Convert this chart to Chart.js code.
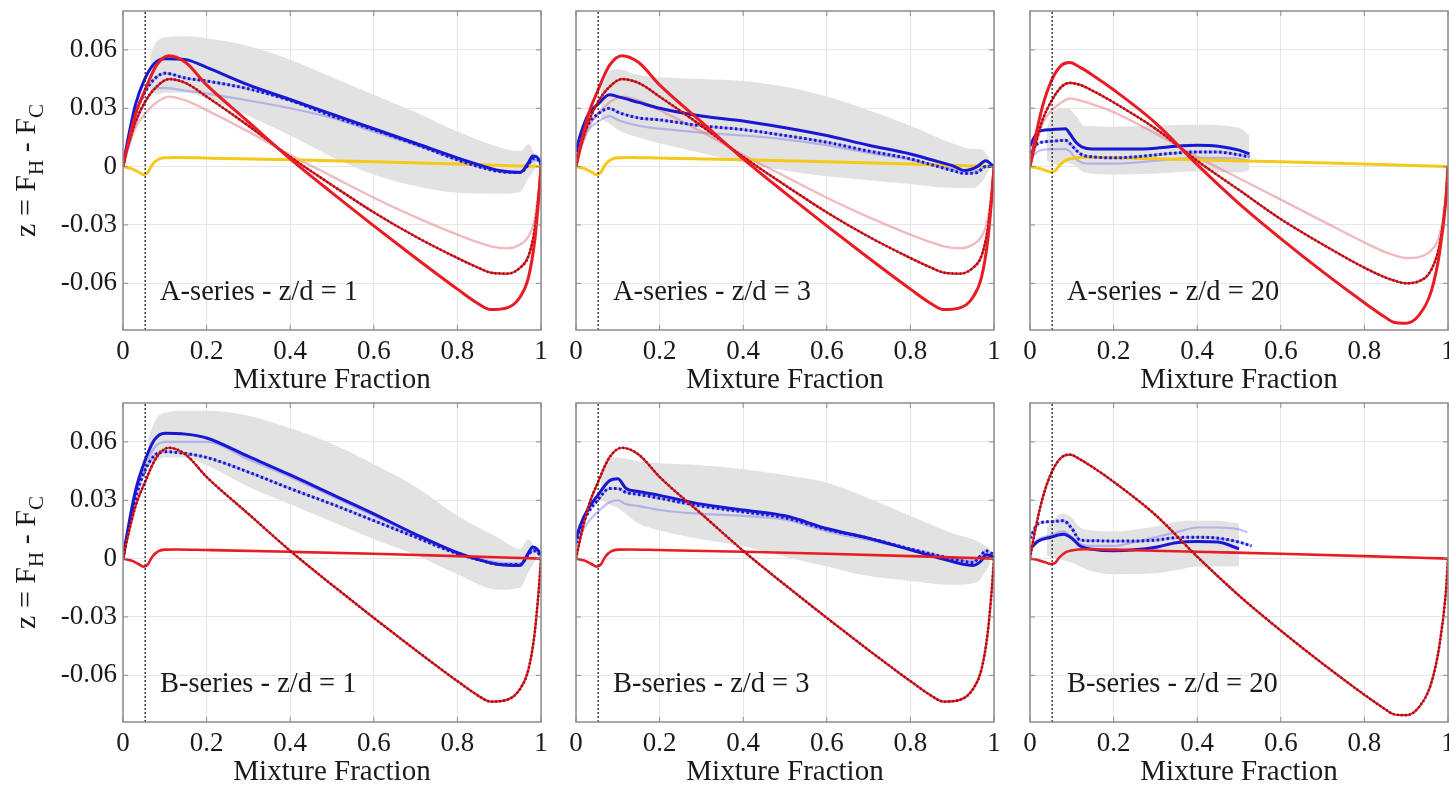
<!DOCTYPE html>
<html lang="en">
<head>
<meta charset="UTF-8">
<title>Mixture fraction panels</title>
<script src="https://cdn.jsdelivr.net/npm/chart.js"></script>
<style>
  body { margin: 0; width: 1449px; height: 785px; overflow: hidden; background: #fff; position: relative; }
  canvas { position: absolute; }
</style>
</head>
<body>
<script>
// axis setup
var X_TICKS = [0, 0.2, 0.4, 0.6, 0.8, 1];
var X_TICK_LABELS = ['0', '0.2', '0.4', '0.6', '0.8', '1'];
var Y_TICKS = [-0.06, -0.03, 0, 0.03, 0.06];
var Y_TICK_LABELS = ['-0.06', '-0.03', '0', '0.03', '0.06'];
var Y_MIN = -0.084, Y_MAX = 0.080;
var Z_ST = 0.053;   // stoichiometric mixture fraction (dotted line)

// model curves, A-series z/d = 1 and 3 (also B-series dotted red)
var X_MODEL = [0, 0.01, 0.03, 0.052, 0.08, 0.11, 0.15, 0.2, 0.3, 0.4, 0.5, 0.6, 0.7, 0.8, 0.85, 0.88, 0.92, 0.95, 0.97, 0.985, 0.995, 1];
var A_RED      = [0, 0.010, 0.027, 0.039, 0.052, 0.057, 0.0535, 0.042, 0.023, 0.004, -0.0135, -0.0305, -0.047, -0.063, -0.0705, -0.0735, -0.0725, -0.067, -0.057, -0.038, -0.015, 0];
var A_RED_DOT  = [0, 0.009, 0.023, 0.033, 0.041, 0.045, 0.043, 0.036, 0.021, 0.005, -0.0095, -0.0235, -0.036, -0.047, -0.052, -0.0545, -0.055, -0.052, -0.046, -0.032, -0.013, 0];
var A_RED_PALE = [0, 0.008, 0.020, 0.027, 0.033, 0.036, 0.034, 0.029, 0.018, 0.006, -0.005, -0.016, -0.026, -0.035, -0.039, -0.041, -0.042, -0.040, -0.036, -0.027, -0.011, 0];

// model curves, z/d = 20
var X_MODEL20 = [0, 0.01, 0.03, 0.052, 0.075, 0.095, 0.12, 0.15, 0.2, 0.3, 0.4, 0.5, 0.6, 0.7, 0.8, 0.85, 0.87, 0.9, 0.93, 0.96, 0.98, 0.995, 1];
var A20_RED      = [0, 0.012, 0.031, 0.0445, 0.052, 0.0535, 0.051, 0.047, 0.0395, 0.0225, 0.001, -0.019, -0.037, -0.054, -0.070, -0.0775, -0.080, -0.0805, -0.0765, -0.064, -0.044, -0.017, 0];
var A20_RED_DOT  = [0, 0.009, 0.024, 0.034, 0.041, 0.043, 0.042, 0.039, 0.033, 0.0195, 0.003, -0.012, -0.027, -0.040, -0.052, -0.057, -0.0585, -0.060, -0.059, -0.053, -0.040, -0.016, 0];
var A20_RED_PALE = [0, 0.008, 0.022, 0.029, 0.033, 0.035, 0.034, 0.032, 0.028, 0.017, 0.005, -0.006, -0.017, -0.028, -0.039, -0.044, -0.0455, -0.047, -0.0465, -0.043, -0.035, -0.015, 0];

// near-zero curve (yellow in A, solid red in B)
var X_NEAR = [0, 0.02, 0.035, 0.05, 0.06, 0.07, 0.085, 0.1, 0.13, 0.2, 0.4, 0.6, 0.8, 1];
var NEAR   = [0, -0.001, -0.0025, -0.0042, -0.0028, 0.001, 0.0038, 0.0046, 0.0047, 0.0044, 0.0035, 0.0025, 0.0013, 0];
var NEAR20 = [0, -0.0008, -0.0018, -0.0028, -0.0022, 0.0005, 0.0032, 0.0042, 0.0048, 0.0046, 0.0035, 0.0025, 0.0013, 0];

// A-series z/d = 1
var A1_X = [0, 0.01, 0.03, 0.052, 0.075, 0.1, 0.15, 0.2, 0.3, 0.4, 0.5, 0.6, 0.7, 0.8, 0.85, 0.9, 0.95, 0.97, 0.98, 0.99, 1];
var A1_BLUE       = [0, 0.012, 0.032, 0.045, 0.053, 0.0555, 0.055, 0.051, 0.042, 0.0345, 0.027, 0.0195, 0.012, 0.0045, 0.001, -0.002, -0.003, 0.002, 0.0055, 0.005, 0.002];
var A1_BLUE_DOT   = [0, 0.010, 0.027, 0.038, 0.045, 0.048, 0.0455, 0.044, 0.040, 0.034, 0.026, 0.019, 0.0115, 0.0035, 0, -0.0025, -0.003, 0.001, 0.004, 0.004, 0.001];
var A1_BLUE_LIGHT = [0, 0.008, 0.022, 0.033, 0.040, 0.0405, 0.039, 0.0375, 0.034, 0.030, 0.025, 0.018, 0.011, 0.0035, 0, -0.002, -0.0025, 0.001, 0.003, 0.003, 0.001];
var A1_BAND_X  = [0.065, 0.08, 0.1, 0.15, 0.2, 0.3, 0.4, 0.5, 0.6, 0.7, 0.8, 0.9, 0.95, 0.97, 0.99];
var A1_BAND_HI = [0.058, 0.064, 0.0665, 0.067, 0.066, 0.062, 0.055, 0.046, 0.037, 0.028, 0.018, 0.010, 0.008, 0.0115, 0.004];
var A1_BAND_LO = [0.040, 0.037, 0.038, 0.038, 0.035, 0.026, 0.016, 0.005, -0.004, -0.010, -0.0135, -0.014, -0.013, -0.006, 0];

// A-series z/d = 3
var A3_X = [0, 0.01, 0.03, 0.052, 0.08, 0.1, 0.15, 0.2, 0.3, 0.4, 0.5, 0.6, 0.7, 0.8, 0.85, 0.9, 0.93, 0.96, 0.98, 1];
var A3_BLUE       = [0.008, 0.016, 0.027, 0.032, 0.037, 0.036, 0.033, 0.030, 0.026, 0.0235, 0.020, 0.016, 0.011, 0.0065, 0.0035, 0.0005, -0.002, 0, 0.003, 0];
var A3_BLUE_DOT   = [0.005, 0.012, 0.022, 0.027, 0.030, 0.028, 0.025, 0.024, 0.021, 0.019, 0.016, 0.0125, 0.008, 0.004, 0.001, -0.002, -0.0035, -0.003, 0, 0];
var A3_BLUE_LIGHT = [0.004, 0.010, 0.019, 0.023, 0.026, 0.024, 0.021, 0.0195, 0.0175, 0.016, 0.014, 0.011, 0.007, 0.0035, 0.001, -0.001, -0.002, -0.002, 0, 0];
var A3_BAND_X  = [0.06, 0.08, 0.1, 0.15, 0.2, 0.3, 0.4, 0.5, 0.6, 0.7, 0.8, 0.9, 0.95, 0.97, 0.99];
var A3_BAND_HI = [0.040, 0.049, 0.050, 0.047, 0.046, 0.045, 0.044, 0.041, 0.036, 0.029, 0.021, 0.012, 0.009, 0.009, 0.004];
var A3_BAND_LO = [0.025, 0.022, 0.019, 0.015, 0.012, 0.007, 0.002, -0.002, -0.005, -0.007, -0.009, -0.011, -0.011, -0.008, -0.001];

// A-series z/d = 20
var A20_X = [0, 0.01, 0.02, 0.05, 0.085, 0.095, 0.11, 0.125, 0.15, 0.2, 0.25, 0.3, 0.35, 0.4, 0.45, 0.5, 0.525];
var A20_BLUE       = [0.0105, 0.015, 0.018, 0.019, 0.0195, 0.017, 0.0125, 0.010, 0.009, 0.009, 0.009, 0.0095, 0.0105, 0.011, 0.0105, 0.0085, 0.0065];
var A20_BLUE_DOT   = [0.007, 0.010, 0.012, 0.013, 0.0135, 0.012, 0.0085, 0.006, 0.005, 0.0045, 0.005, 0.006, 0.007, 0.0075, 0.0075, 0.006, 0.005];
var A20_BLUE_LIGHT = [0.004, 0.006, 0.008, 0.009, 0.009, 0.008, 0.004, 0.002, 0.0015, 0.0015, 0.002, 0.003, 0.004, 0.0045, 0.0045, 0.004, 0.003];
var A20_BAND_X  = [0.04, 0.06, 0.09, 0.11, 0.13, 0.2, 0.3, 0.4, 0.5, 0.525];
var A20_BAND_HI = [0.020, 0.029, 0.030, 0.026, 0.021, 0.0205, 0.021, 0.0215, 0.020, 0.016];
var A20_BAND_LO = [0.003, 0.001, 0.002, 0, -0.003, -0.004, -0.0035, -0.0025, -0.003, -0.002];

// B-series z/d = 1
var B1_X = [0, 0.01, 0.03, 0.052, 0.075, 0.1, 0.15, 0.2, 0.3, 0.4, 0.5, 0.6, 0.7, 0.8, 0.85, 0.9, 0.95, 0.97, 0.98, 0.99, 1];
var B1_BLUE       = [0, 0.013, 0.035, 0.050, 0.061, 0.0645, 0.064, 0.062, 0.0525, 0.043, 0.033, 0.023, 0.0125, 0.003, -0.0005, -0.003, -0.0035, 0.003, 0.006, 0.005, 0.002];
var B1_BLUE_DOT   = [0, 0.012, 0.031, 0.045, 0.053, 0.055, 0.054, 0.052, 0.0445, 0.036, 0.028, 0.0195, 0.011, 0.0025, -0.0005, -0.003, -0.003, 0.002, 0.004, 0.0035, 0.001];
var B1_BLUE_LIGHT = [0, 0.012, 0.033, 0.047, 0.057, 0.060, 0.060, 0.060, 0.051, 0.042, 0.032, 0.022, 0.012, 0.003, 0, -0.002, -0.0025, 0.002, 0.005, 0.004, 0.001];
var B1_BAND_X  = [0.06, 0.08, 0.1, 0.15, 0.2, 0.3, 0.4, 0.5, 0.6, 0.7, 0.8, 0.9, 0.95, 0.97, 0.99];
var B1_BAND_HI = [0.062, 0.072, 0.075, 0.076, 0.076, 0.0735, 0.067, 0.059, 0.0485, 0.037, 0.022, 0.0105, 0.005, 0.010, 0.003];
var B1_BAND_LO = [0.045, 0.050, 0.052, 0.052, 0.048, 0.037, 0.028, 0.019, 0.010, 0.002, -0.008, -0.016, -0.015, -0.007, 0];

// B-series z/d = 3
var B3_X = [0, 0.01, 0.03, 0.052, 0.08, 0.1, 0.12, 0.15, 0.2, 0.3, 0.4, 0.5, 0.6, 0.7, 0.8, 0.9, 0.95, 0.97, 0.98, 1];
var B3_BLUE       = [0.010, 0.017, 0.026, 0.0325, 0.040, 0.041, 0.036, 0.0345, 0.0325, 0.028, 0.025, 0.022, 0.0155, 0.0105, 0.0045, -0.0015, -0.0035, -0.001, 0.002, 0.001];
var B3_BLUE_DOT   = [0.008, 0.015, 0.024, 0.030, 0.036, 0.036, 0.034, 0.033, 0.031, 0.027, 0.024, 0.021, 0.015, 0.0105, 0.005, 0, -0.002, 0.002, 0.004, 0.002];
var B3_BLUE_LIGHT = [0.006, 0.012, 0.019, 0.024, 0.029, 0.030, 0.028, 0.027, 0.025, 0.023, 0.022, 0.020, 0.014, 0.0095, 0.005, 0, -0.001, 0.001, 0.001, 0];
var B3_BAND_X  = [0.06, 0.08, 0.1, 0.15, 0.2, 0.3, 0.4, 0.5, 0.6, 0.7, 0.8, 0.9, 0.96, 0.99];
var B3_BAND_HI = [0.046, 0.052, 0.052, 0.050, 0.049, 0.048, 0.046, 0.043, 0.039, 0.031, 0.022, 0.013, 0.009, 0.005];
var B3_BAND_LO = [0.030, 0.028, 0.026, 0.018, 0.0145, 0.010, 0.0065, 0.001, -0.004, -0.009, -0.0115, -0.0135, -0.012, -0.003];

// B-series z/d = 20
var B20_X = [0, 0.02, 0.05, 0.08, 0.1, 0.12, 0.15, 0.2, 0.25, 0.3, 0.35, 0.4, 0.45, 0.5];
var B20_BLUE = [0.0048, 0.009, 0.011, 0.0125, 0.0105, 0.0065, 0.0048, 0.004, 0.0045, 0.0058, 0.0082, 0.0088, 0.0085, 0.005];
var B20_DOT_X = [0, 0.02, 0.05, 0.08, 0.1, 0.12, 0.15, 0.2, 0.25, 0.3, 0.35, 0.4, 0.45, 0.5, 0.53];
var B20_BLUE_DOT = [0.0105, 0.018, 0.019, 0.0195, 0.0155, 0.0095, 0.0092, 0.009, 0.009, 0.0095, 0.0108, 0.011, 0.0105, 0.0085, 0.0065];
var B20_LIGHT_X = [0, 0.02, 0.05, 0.08, 0.1, 0.12, 0.15, 0.2, 0.25, 0.3, 0.35, 0.4, 0.45, 0.5, 0.52];
var B20_BLUE_LIGHT = [0.006, 0.010, 0.012, 0.014, 0.011, 0.0075, 0.0065, 0.0065, 0.0085, 0.011, 0.0135, 0.016, 0.016, 0.015, 0.0135];
var B20_BAND_X  = [0.04, 0.06, 0.08, 0.1, 0.12, 0.15, 0.2, 0.3, 0.35, 0.4, 0.45, 0.5];
var B20_BAND_HI = [0.016, 0.021, 0.023, 0.021, 0.016, 0.0145, 0.014, 0.0165, 0.019, 0.0195, 0.0195, 0.018];
var B20_BAND_LO = [0.002, 0, -0.001, -0.002, -0.004, -0.0065, -0.008, -0.0075, -0.006, -0.004, -0.004, -0.004];

// colours
var BLUE = 'rgb(24,24,210)';
var BLUE_UNDER = 'rgba(110,110,230,0.45)';
var BLUE_LIGHT = 'rgba(120,120,235,0.45)';
var RED = 'rgb(232,28,34)';
var RED_DARK = 'rgba(110,0,15,0.7)';
var RED_PALE = 'rgba(225,120,130,0.5)';
var YELLOW = 'rgb(246,200,24)';
var BAND = 'rgb(226,226,226)';
var FONT = "'Liberation Serif', 'Times New Roman', serif";
var TEXT = '#1a1a1a';

// page layout of the 2x3 grid
var COL_X = [123, 576, 1030];
var ROW_Y = [11, 403];
var PLOT_W = 418, PLOT_H = 319;

function pts(xs, ys) {
  return xs.map(function(x, i) { return {x: x, y: ys[i]}; });
}

function line(xs, ys, color, width, dash) {
  return {
    data: pts(xs, ys),
    borderColor: color,
    borderWidth: width,
    borderDash: dash || [],
    pointRadius: 0,
    fill: false,
    cubicInterpolationMode: 'monotone'
  };
}

// dotted styles = light underlay + dashed overlay
function dotted(xs, ys, under, over, w, dash) {
  return [line(xs, ys, under, w - 0.6), line(xs, ys, over, w, dash)];
}

function band(xs, hi, lo) {
  var top = line(xs, hi, 'rgba(0,0,0,0)', 0);
  top.fill = '+1';
  top.backgroundColor = BAND;
  return [top, line(xs, lo, 'rgba(0,0,0,0)', 0)];
}

function stoich() {
  var d = line([Z_ST, Z_ST], [Y_MIN, Y_MAX], '#222', 1.3, [2, 2]);
  d.cubicInterpolationMode = 'default';
  return d;
}

function aSeries(bx, hi, lo, x, blue, dot, light, mx, red, redDot, redPale, near) {
  return [].concat(
    band(bx, hi, lo),
    [line(x, light, BLUE_LIGHT, 2.2), line(mx, redPale, RED_PALE, 2.4), line(X_NEAR, near, YELLOW, 3)],
    dotted(x, dot, BLUE_UNDER, BLUE, 3, [2.5, 2.5]),
    [line(x, blue, BLUE, 3)],
    dotted(mx, redDot, RED, RED_DARK, 2.8, [1.5, 2.5]),
    [line(mx, red, RED, 3), stoich()]
  );
}

function bSeries(bx, hi, lo, x, blue, dx, dot, lx, light, mx, redDot, near) {
  return [].concat(
    band(bx, hi, lo),
    [line(lx, light, BLUE_LIGHT, 2.2)],
    dotted(dx, dot, BLUE_UNDER, BLUE, 3, [2.5, 2.5]),
    [line(x, blue, BLUE, 3), line(X_NEAR, near, RED, 2.6)],
    dotted(mx, redDot, RED, RED_DARK, 2.8, [1.5, 2.5]),
    [stoich()]
  );
}

var PANELS = [
  {row: 0, col: 0, label: 'A-series - z/d = 1',
   sets: aSeries(A1_BAND_X, A1_BAND_HI, A1_BAND_LO, A1_X, A1_BLUE, A1_BLUE_DOT, A1_BLUE_LIGHT, X_MODEL, A_RED, A_RED_DOT, A_RED_PALE, NEAR)},
  {row: 0, col: 1, label: 'A-series - z/d = 3',
   sets: aSeries(A3_BAND_X, A3_BAND_HI, A3_BAND_LO, A3_X, A3_BLUE, A3_BLUE_DOT, A3_BLUE_LIGHT, X_MODEL, A_RED, A_RED_DOT, A_RED_PALE, NEAR)},
  {row: 0, col: 2, label: 'A-series - z/d = 20',
   sets: aSeries(A20_BAND_X, A20_BAND_HI, A20_BAND_LO, A20_X, A20_BLUE, A20_BLUE_DOT, A20_BLUE_LIGHT, X_MODEL20, A20_RED, A20_RED_DOT, A20_RED_PALE, NEAR20)},
  {row: 1, col: 0, label: 'B-series - z/d = 1',
   sets: bSeries(B1_BAND_X, B1_BAND_HI, B1_BAND_LO, B1_X, B1_BLUE, B1_X, B1_BLUE_DOT, B1_X, B1_BLUE_LIGHT, X_MODEL, A_RED, NEAR)},
  {row: 1, col: 1, label: 'B-series - z/d = 3',
   sets: bSeries(B3_BAND_X, B3_BAND_HI, B3_BAND_LO, B3_X, B3_BLUE, B3_X, B3_BLUE_DOT, B3_X, B3_BLUE_LIGHT, X_MODEL, A_RED, NEAR)},
  {row: 1, col: 2, label: 'B-series - z/d = 20',
   sets: bSeries(B20_BAND_X, B20_BAND_HI, B20_BAND_LO, B20_X, B20_BLUE, B20_DOT_X, B20_BLUE_DOT, B20_LIGHT_X, B20_BLUE_LIGHT, X_MODEL20, A20_RED, NEAR20)}
];

// box around the plot with small inward ticks, panel label, y title
function panelPlugin(label, showTitle) {
  return {
    id: 'panelDeco',
    afterDraw: function(chart) {
      var ctx = chart.ctx, a = chart.chartArea;
      var xs = chart.scales.x, ys = chart.scales.y;
      ctx.save();
      ctx.strokeStyle = '#8c8c8c';
      ctx.lineWidth = 1.5;
      ctx.strokeRect(a.left, a.top, a.right - a.left, a.bottom - a.top);
      ctx.lineWidth = 1;
      ctx.beginPath();
      X_TICKS.forEach(function(v) {
        var px = xs.getPixelForValue(v);
        ctx.moveTo(px, a.bottom); ctx.lineTo(px, a.bottom - 5);
        ctx.moveTo(px, a.top); ctx.lineTo(px, a.top + 5);
      });
      Y_TICKS.forEach(function(v) {
        var py = ys.getPixelForValue(v);
        ctx.moveTo(a.left, py); ctx.lineTo(a.left + 5, py);
        ctx.moveTo(a.right, py); ctx.lineTo(a.right - 5, py);
      });
      ctx.stroke();

      ctx.fillStyle = TEXT;
      ctx.font = '28.5px ' + FONT;
      ctx.textBaseline = 'middle';
      ctx.textAlign = 'left';
      ctx.fillText(label, a.left + 37, a.bottom - 37);

      if (showTitle) {
        var parts = [['z = F', 30, 0], ['H', 21, 10], [' - F', 30, 0], ['C', 21, 10]];
        var total = 0;
        parts.forEach(function(p) { ctx.font = p[1] + 'px ' + FONT; p.push(ctx.measureText(p[0]).width); total += p[3]; });
        ctx.translate(27, (a.top + a.bottom) / 2);
        ctx.rotate(-Math.PI / 2);
        var cx = -total / 2;
        parts.forEach(function(p) {
          ctx.font = p[1] + 'px ' + FONT;
          ctx.fillText(p[0], cx, p[2]);
          cx += p[3];
        });
      }
      ctx.restore();
    }
  };
}

PANELS.forEach(function(p) {
  var padL = p.col === 0 ? COL_X[0] : 40;
  var padT = 11, padR = 14, padB = 65;
  var canvas = document.createElement('canvas');
  var w = padL + PLOT_W + padR, h = padT + PLOT_H + padB;
  canvas.width = w; canvas.height = h;
  canvas.style.width = w + 'px'; canvas.style.height = h + 'px';
  canvas.style.left = (COL_X[p.col] - padL) + 'px';
  canvas.style.top = (ROW_Y[p.row] - padT) + 'px';
  document.body.appendChild(canvas);

  var sets = p.sets;
  sets.forEach(function(d, i) { d.order = sets.length - i; });

  new Chart(canvas.getContext('2d'), {
    type: 'line',
    data: {datasets: sets},
    options: {
      responsive: false,
      animation: false,
      events: [],
      layout: {padding: {top: padT, right: padR, left: 0, bottom: 0}},
      plugins: {legend: {display: false}, tooltip: {enabled: false}},
      scales: {
        x: {
          type: 'linear', min: 0, max: 1,
          afterBuildTicks: function(s) { s.ticks = X_TICKS.map(function(v) { return {value: v}; }); },
          afterFit: function(s) { s.height = padB; s.paddingLeft = 0; s.paddingRight = 0; },
          ticks: {
            autoSkip: false, maxRotation: 0, padding: 6, color: TEXT,
            font: {family: FONT, size: 27},
            callback: function(v, i) { return X_TICK_LABELS[i]; }
          },
          grid: {color: '#e6e6e6', drawTicks: false},
          border: {display: false},
          title: {display: true, text: 'Mixture Fraction', color: TEXT,
                  font: {family: FONT, size: 29, lineHeight: 1}, padding: 0}
        },
        y: {
          type: 'linear', min: Y_MIN, max: Y_MAX,
          afterBuildTicks: function(s) { s.ticks = Y_TICKS.map(function(v) { return {value: v}; }); },
          afterFit: function(s) { s.width = padL; s.paddingTop = 0; s.paddingBottom = 0; },
          ticks: {
            display: p.col === 0, padding: 6, color: TEXT,
            font: {family: FONT, size: 27},
            callback: function(v, i) { return Y_TICK_LABELS[i]; }
          },
          grid: {color: '#e6e6e6', drawTicks: false},
          border: {display: false}
        }
      }
    },
    plugins: [panelPlugin(p.label, p.col === 0)]
  });
});
</script>
</body>
</html>
